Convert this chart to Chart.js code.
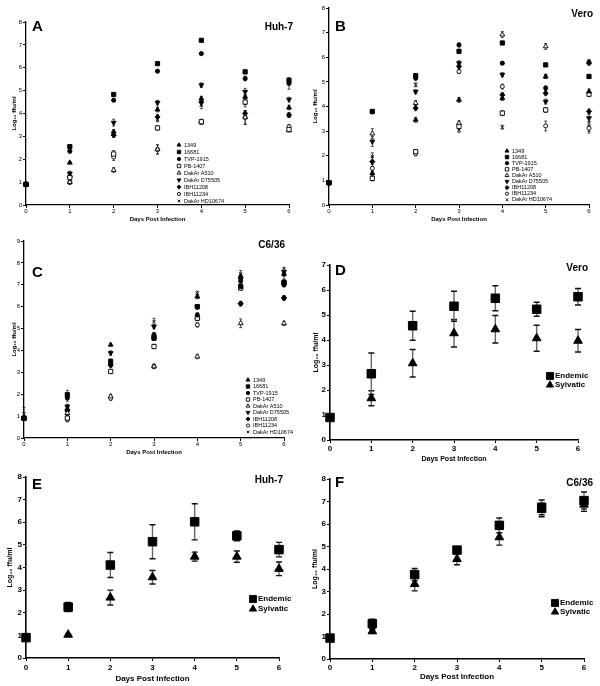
<!DOCTYPE html>
<html><head><meta charset="utf-8">
<script src="https://cdn.jsdelivr.net/npm/chart.js@4/dist/chart.umd.min.js"></script>
<style>
body{margin:0;background:#fff;width:600px;height:686px;position:relative;overflow:hidden}
.p{position:absolute}
</style></head><body>
<div class="p" style="left:0;top:0;width:300px;height:225px"><canvas id="cA"></canvas></div>
<div class="p" style="left:300px;top:0;width:300px;height:225px"><canvas id="cB"></canvas></div>
<div class="p" style="left:0;top:225px;width:300px;height:232px"><canvas id="cC"></canvas></div>
<div class="p" style="left:300px;top:225px;width:300px;height:240px"><canvas id="cD"></canvas></div>
<div class="p" style="left:0;top:457px;width:300px;height:229px"><canvas id="cE"></canvas></div>
<div class="p" style="left:300px;top:465px;width:300px;height:221px"><canvas id="cF"></canvas></div>
<script>
const days = [0, 1, 2, 3, 4, 5, 6];
const strains = ['1349', '16681', 'TVP-1915', 'PB-1407', 'DakAr A510', 'DakAr D75505', 'IBH11208', 'IBH11234', 'DakAr HD10674'];

// Panel A: Huh-7, individual strains (log10 ffu/ml)
const A_1349   = [0.9, 1.85, 3.20, 4.17, 4.65, 4.73, 4.26];
const A_16681  = [0.9, 2.55, 4.83, 6.18, 7.20, 5.82, 5.45];
const A_TVP    = [0.9, 2.35, 4.58, 5.85, 6.62, 5.53, 5.31];
const A_PB     = [0.9, 1.20, 2.23, 3.37, 3.64, 4.50, 3.30];
const A_A510   = [0.9, 1.00, 1.53, 2.43, 3.64, 3.83, 3.27];
const A_D75505 = [0.9, 1.38, 3.60, 4.47, 5.24, 4.95, 4.61];
const A_IBH08  = [0.9, 1.24, 3.05, 3.85, 4.50, 4.00, 3.93];
const A_IBH34  = [0.9, 1.00, 2.10, 2.43, 3.64, 3.83, 3.42];
const A_HD     = [0.9, 1.30, 3.13, 3.74, 4.36, 4.44, 3.93];
const A_err_1349   = [0, 0.05, 0.10, 0.10, 0.10, 0.10, 0.10];
const A_err_16681  = [0, 0.08, 0.08, 0.05, 0.05, 0.08, 0.10];
const A_err_TVP    = [0, 0.08, 0.06, 0.05, 0.05, 0.10, 0.25];
const A_err_PB     = [0, 0.10, 0.15, 0.10, 0.10, 0.10, 0.08];
const A_err_A510   = [0, 0.08, 0.10, 0.20, 0.10, 0.30, 0.08];
const A_err_D75505 = [0, 0.10, 0.15, 0.10, 0.10, 0.15, 0.10];
const A_err_IBH08  = [0, 0.10, 0.10, 0.10, 0.15, 0.10, 0.10];
const A_err_IBH34  = [0, 0.10, 0.15, 0.20, 0.10, 0.30, 0.10];
const A_err_HD     = [0, 0.10, 0.10, 0.10, 0.15, 0.15, 0.10];

// Panel B: Vero, individual strains
const B_1349   = [0.9, 1.29, 3.46, 4.27, 4.34, 5.22, 4.61];
const B_16681  = [0.9, 3.80, 5.25, 6.24, 6.58, 5.69, 5.22];
const B_TVP    = [0.9, 3.78, 5.15, 6.50, 5.76, 4.75, 5.79];
const B_PB     = [0.9, 1.08, 2.17, 3.19, 3.73, 3.86, 4.50];
const B_A510   = [0.9, 2.90, 4.14, 3.32, 6.92, 6.44, 5.79];
const B_D75505 = [0.9, 2.58, 4.60, 5.76, 5.29, 4.20, 3.53];
const B_IBH08  = [0.9, 1.76, 3.93, 5.63, 4.47, 4.54, 3.80];
const B_IBH34  = [0.9, 1.49, 2.08, 5.42, 4.81, 3.21, 3.12];
const B_HD     = [0.9, 1.97, 4.88, 3.05, 3.16, 5.22, 3.19];
const B_err_1349   = [0, 0.10, 0.10, 0.10, 0.10, 0.08, 0.10];
const B_err_16681  = [0, 0.05, 0.08, 0.08, 0.05, 0.05, 0.08];
const B_err_TVP    = [0, 0.05, 0.08, 0.08, 0.05, 0.08, 0.08];
const B_err_PB     = [0, 0.10, 0.08, 0.10, 0.10, 0.10, 0.10];
const B_err_A510   = [0, 0.20, 0.10, 0.10, 0.12, 0.12, 0.12];
const B_err_D75505 = [0, 0.20, 0.08, 0.10, 0.08, 0.10, 0.15];
const B_err_IBH08  = [0, 0.20, 0.10, 0.10, 0.10, 0.10, 0.10];
const B_err_IBH34  = [0, 0.15, 0.08, 0.08, 0.10, 0.20, 0.20];
const B_err_HD     = [0, 0.15, 0.08, 0.10, 0.08, 0.08, 0.20];

// Panel C: C6/36, individual strains
const C_1349   = [0.9, 1.29, 4.26, 4.71, 6.46, 7.40, 7.50];
const C_16681  = [0.9, 1.98, 3.50, 4.56, 6.00, 6.93, 7.10];
const C_TVP    = [0.9, 1.83, 3.34, 4.71, 5.62, 7.17, 7.00];
const C_PB     = [0.9, 0.91, 3.04, 4.18, 5.47, 6.85, 7.10];
const C_A510   = [0.9, 1.14, 1.90, 3.27, 3.72, 5.24, 5.24];
const C_D75505 = [0.9, 1.44, 3.88, 5.09, 6.00, 7.25, 7.60];
const C_IBH08  = [0.9, 1.29, 3.34, 4.56, 5.47, 6.14, 6.40];
const C_IBH34  = [0.9, 0.84, 1.82, 3.27, 5.17, 6.14, 6.40];
const C_HD     = [1.1, 1.14, 3.50, 5.32, 6.61, 7.50, 7.50];
const C_err_1349   = [0, 0.10, 0.05, 0.10, 0.10, 0.10, 0.10];
const C_err_16681  = [0, 0.20, 0.10, 0.10, 0.10, 0.10, 0.15];
const C_err_TVP    = [0, 0.15, 0.10, 0.10, 0.10, 0.10, 0.10];
const C_err_PB     = [0, 0.10, 0.10, 0.10, 0.10, 0.10, 0.10];
const C_err_A510   = [0, 0.10, 0.10, 0.10, 0.10, 0.20, 0.10];
const C_err_D75505 = [0, 0.10, 0.10, 0.10, 0.10, 0.15, 0.20];
const C_err_IBH08  = [0, 0.10, 0.10, 0.10, 0.10, 0.10, 0.10];
const C_err_IBH34  = [0, 0.10, 0.10, 0.10, 0.10, 0.10, 0.10];
const C_err_HD     = [0.3, 0.10, 0.10, 0.15, 0.10, 0.15, 0.25];

// Panels D-F: Endemic vs Sylvatic means
const D_endemic   = [0.9, 2.65, 4.57, 5.35, 5.67, 5.23, 5.73];
const D_endemic_e = [0, 0.83, 0.58, 0.60, 0.50, 0.28, 0.33];
const D_sylvatic   = [null, 1.67, 3.07, 4.27, 4.43, 4.07, 3.97];
const D_sylvatic_e = [0, 0.30, 0.55, 0.55, 0.55, 0.52, 0.45];
const E_endemic   = [0.9, 2.25, 4.11, 5.14, 6.02, 5.40, 4.79];
const E_endemic_e = [0, 0.20, 0.55, 0.75, 0.80, 0.22, 0.32];
const E_sylvatic   = [null, 1.03, 2.67, 3.57, 4.48, 4.48, 3.94];
const E_sylvatic_e = [0, 0.03, 0.33, 0.30, 0.20, 0.25, 0.30];
const F_endemic   = [0.93, 1.57, 3.75, 4.84, 5.94, 6.74, 7.04];
const F_endemic_e = [0, 0.20, 0.27, 0.12, 0.33, 0.33, 0.38];
const F_sylvatic   = [null, 1.23, 3.33, 4.44, 5.41, 6.62, 6.86];
const F_sylvatic_e = [0, 0.08, 0.30, 0.25, 0.35, 0.30, 0.30];

const FONT = "'Liberation Sans', Arial, sans-serif";
const strainStyles = [
  {pointStyle:'triangle', fill:true, r:2.8, rot:0},
  {pointStyle:'rect', fill:true, r:3.0, rot:0},
  {pointStyle:'circle', fill:true, r:2.1, rot:0},
  {pointStyle:'rect', fill:false, r:3.0, rot:0},
  {pointStyle:'triangle', fill:false, r:2.8, rot:0},
  {pointStyle:'triangle', fill:true, r:2.8, rot:180},
  {pointStyle:'rectRot', fill:true, r:2.6, rot:0},
  {pointStyle:'circle', fill:false, r:2.0, rot:0},
  {pointStyle:'crossRot', fill:false, r:2.4, rot:0}
];

function pts(vals){ return days.map((d,i)=>({x:d, y:vals[i]})); }

function strainSets(valsList, errList){
  return valsList.map((v,i)=>{
    const s = strainStyles[i];
    return {label:strains[i], data:pts(v), errors:errList[i], errCap:1.5, errColor:'#222', errWidth:0.8,
      pointStyle:s.pointStyle, pointRadius:s.r, pointRotation:s.rot,
      backgroundColor: s.fill ? '#000' : '#fff', borderColor:'#000', pointBorderWidth:0.9, clip:false};
  });
}
function groupSets(endv, ende, sylv, syle){
  return [
    {label:'Sylvatic', data:pts(sylv), errors:syle, errCap:3, errColor:'#666', errCapColor:'#111', errWidth:1.4,
     pointStyle:'triangle', pointRadius:5, backgroundColor:'#000', borderColor:'#000', pointBorderWidth:1, clip:false},
    {label:'Endemic', data:pts(endv), errors:ende, errCap:3, errColor:'#666', errCapColor:'#111', errWidth:1.4,
     pointStyle:'rect', pointRadius:6, backgroundColor:'#000', borderColor:'#000', pointBorderWidth:1, clip:false}
  ];
}

const errPlugin = {
  id:'err',
  beforeDatasetsDraw(chart){
    const ctx = chart.ctx, xs = chart.scales.x, ys = chart.scales.y;
    chart.data.datasets.forEach(ds=>{
      if(!ds.errors) return;
      ds.data.forEach((p,j)=>{
        const e = ds.errors[j];
        if(p.y == null || !e) return;
        const x = xs.getPixelForValue(p.x);
        const y1 = ys.getPixelForValue(p.y + e), y2 = ys.getPixelForValue(p.y - e);
        const c = ds.errCap;
        ctx.save();
        ctx.lineWidth = ds.errWidth;
        ctx.strokeStyle = ds.errColor;
        ctx.beginPath(); ctx.moveTo(x,y1); ctx.lineTo(x,y2); ctx.stroke();
        ctx.strokeStyle = ds.errCapColor || ds.errColor;
        ctx.beginPath();
        ctx.moveTo(x-c,y1); ctx.lineTo(x+c,y1);
        ctx.moveTo(x-c,y2); ctx.lineTo(x+c,y2);
        ctx.stroke();
        ctx.restore();
      });
    });
  }
};

function drawSym(ctx, st, x, y){
  ctx.save();
  ctx.fillStyle = st.fill ? '#000' : '#fff';
  ctx.strokeStyle = '#000';
  ctx.lineWidth = st.bw || 0.9;
  if (Chart.helpers && Chart.helpers.drawPoint) {
    Chart.helpers.drawPoint(ctx, {pointStyle:st.pointStyle, radius:st.r, rotation:st.rot||0, borderWidth:st.bw||0.9}, x, y);
  } else {
    ctx.fillRect(x-st.r, y-st.r, 2*st.r, 2*st.r);
  }
  ctx.restore();
}

const decoPlugin = {
  id:'deco',
  afterDraw(chart, args, o){
    const ctx = chart.ctx;
    ctx.save();
    (o.texts||[]).forEach(t=>{
      ctx.font = t.font; ctx.fillStyle = '#000';
      ctx.textAlign = t.align || 'left'; ctx.textBaseline = 'middle';
      ctx.fillText(t.t, t.x - o.ox, t.y - o.oy);
    });
    const L = o.legend;
    if (L) {
      L.items.forEach((it,i)=>{
        const y = L.y + i*L.dy - o.oy;
        drawSym(ctx, it.st, L.x - o.ox, y);
        ctx.font = L.font; ctx.fillStyle = '#000';
        ctx.textAlign = 'left'; ctx.textBaseline = 'middle';
        ctx.fillText(it.label, L.tx - o.ox, y);
      });
    }
    ctx.restore();
  }
};

function makePanel(id, box, area, o){
  const gridOpt = {display:true, drawOnChartArea:false, drawTicks:true, tickLength:3, color:'#000', lineWidth:1};
  o.deco.ox = box.left; o.deco.oy = box.top;
  new Chart(document.getElementById(id), {
    type:'scatter',
    data:{datasets:o.datasets},
    options:{
      responsive:true, maintainAspectRatio:false, animation:false,
      layout:{padding:{left:0, top:area.t-box.top, right:box.left+box.w-area.r, bottom:0}},
      plugins:{legend:{display:false}, tooltip:{enabled:false}, deco:o.deco},
      scales:{
        x:{type:'linear', min:0, max:6,
          afterFit(s){ s.height = box.top + box.h - area.b; },
          ticks:{stepSize:1, font:o.tickFont, color:'#000', padding:o.xTickPad, maxRotation:0, autoSkip:false},
          grid:gridOpt, border:{display:true, color:'#000', width:o.axisW},
          title:{display:true, text:'Days Post Infection', font:o.xTitleFont, color:'#000', padding:{top:0, bottom:o.xTitlePad}}},
        y:{type:'linear', min:0, max:o.yMax,
          afterFit(s){ s.width = area.l - box.left; },
          ticks:{stepSize:1, font:o.tickFont, color:'#000', padding:1, autoSkip:false},
          grid:gridOpt, border:{display:true, color:'#000', width:o.axisW},
          title:{display:true, text:'Log\u2081\u2080 ffu/ml', font:o.yTitleFont, color:'#000', padding:{top:o.yTitlePad, bottom:0}}}
      }
    },
    plugins:[errPlugin, decoPlugin]
  });
}

const smallTick = {family:FONT, size:6};
const smallTitle = {family:FONT, size:6, weight:'bold'};
const bigTick = {family:FONT, size:8, weight:'bold'};
const bigTitle = {family:FONT, size:8, weight:'bold'};
const letterFont = 'bold 15px ' + FONT;
const cellFont = 'bold 10px ' + FONT;
const strainLegend = (x, y, dy) => ({x:x, tx:x+5, y:y, dy:dy, font:'5.5px ' + FONT,
  items: strains.map((s,i)=>({label:s, st:Object.assign({}, strainStyles[i], {r:strainStyles[i].r*0.8})}))});
const groupLegend = (x, y, dy) => ({x:x, tx:x+5, y:y, dy:dy, font:'bold 8px ' + FONT,
  items:[{label:'Endemic', st:{pointStyle:'rect', fill:true, r:5, rot:0}},
         {label:'Sylvatic', st:{pointStyle:'triangle', fill:true, r:4.2, rot:0}}]});

makePanel('cA', {left:0, top:0, w:300, h:225}, {l:26, r:289, t:22, b:205}, {
  yMax:8, tickFont:smallTick, xTickPad:0, axisW:1.3, xTitleFont:smallTitle, xTitlePad:2, yTitleFont:smallTitle, yTitlePad:11,
  datasets: strainSets([A_1349, A_16681, A_TVP, A_PB, A_A510, A_D75505, A_IBH08, A_IBH34, A_HD],
    [A_err_1349, A_err_16681, A_err_TVP, A_err_PB, A_err_A510, A_err_D75505, A_err_IBH08, A_err_IBH34, A_err_HD]),
  deco:{texts:[{t:'A', x:32, y:27, font:letterFont}, {t:'Huh-7', x:293, y:27, font:cellFont, align:'right'}],
        legend: strainLegend(179, 145, 7)}
});
makePanel('cB', {left:300, top:0, w:300, h:225}, {l:329, r:589, t:8, b:205}, {
  yMax:8, tickFont:smallTick, xTickPad:0, axisW:1.3, xTitleFont:smallTitle, xTitlePad:2, yTitleFont:smallTitle, yTitlePad:12,
  datasets: strainSets([B_1349, B_16681, B_TVP, B_PB, B_A510, B_D75505, B_IBH08, B_IBH34, B_HD],
    [B_err_1349, B_err_16681, B_err_TVP, B_err_PB, B_err_A510, B_err_D75505, B_err_IBH08, B_err_IBH34, B_err_HD]),
  deco:{texts:[{t:'B', x:335, y:27, font:letterFont}, {t:'Vero', x:593, y:14, font:cellFont, align:'right'}],
        legend: strainLegend(507, 151, 6.1)}
});
makePanel('cC', {left:0, top:225, w:300, h:232}, {l:24, r:284, t:241, b:438}, {
  yMax:9, tickFont:smallTick, xTickPad:0, axisW:1.3, xTitleFont:smallTitle, xTitlePad:1, yTitleFont:smallTitle, yTitlePad:11,
  datasets: strainSets([C_1349, C_16681, C_TVP, C_PB, C_A510, C_D75505, C_IBH08, C_IBH34, C_HD],
    [C_err_1349, C_err_16681, C_err_TVP, C_err_PB, C_err_A510, C_err_D75505, C_err_IBH08, C_err_IBH34, C_err_HD]),
  deco:{texts:[{t:'C', x:32, y:273, font:letterFont}, {t:'C6/36', x:285, y:245, font:cellFont, align:'right'}],
        legend: strainLegend(248, 380, 6.5)}
});
makePanel('cD', {left:300, top:225, w:300, h:240}, {l:330, r:578, t:265, b:440}, {
  yMax:7, tickFont:bigTick, xTickPad:1, axisW:1.6, xTitleFont:{family:FONT, size:7, weight:'bold'}, xTitlePad:2, yTitleFont:{family:FONT, size:7, weight:'bold'}, yTitlePad:12,
  datasets: groupSets(D_endemic, D_endemic_e, D_sylvatic, D_sylvatic_e),
  deco:{texts:[{t:'D', x:335, y:271, font:letterFont}, {t:'Vero', x:588, y:268, font:cellFont, align:'right'}],
        legend: groupLegend(550, 376, 9)}
});
makePanel('cE', {left:0, top:457, w:300, h:229}, {l:26, r:279, t:477, b:658}, {
  yMax:8, tickFont:bigTick, xTickPad:2, axisW:1.6, xTitleFont:bigTitle, xTitlePad:2, yTitleFont:{family:FONT, size:7, weight:'bold'}, yTitlePad:6,
  datasets: groupSets(E_endemic, E_endemic_e, E_sylvatic, E_sylvatic_e),
  deco:{texts:[{t:'E', x:32, y:485, font:letterFont}, {t:'Huh-7', x:283, y:480, font:cellFont, align:'right'}],
        legend: groupLegend(253, 599, 10)}
});
makePanel('cF', {left:300, top:465, w:300, h:221}, {l:330, r:584, t:479, b:659}, {
  yMax:8, tickFont:bigTick, xTickPad:1, axisW:1.6, xTitleFont:bigTitle, xTitlePad:4, yTitleFont:{family:FONT, size:7, weight:'bold'}, yTitlePad:11,
  datasets: groupSets(F_endemic, F_endemic_e, F_sylvatic, F_sylvatic_e),
  deco:{texts:[{t:'F', x:335, y:483, font:letterFont}, {t:'C6/36', x:593, y:483, font:cellFont, align:'right'}],
        legend: groupLegend(555, 603, 9)}
});
</script>
</body></html>
